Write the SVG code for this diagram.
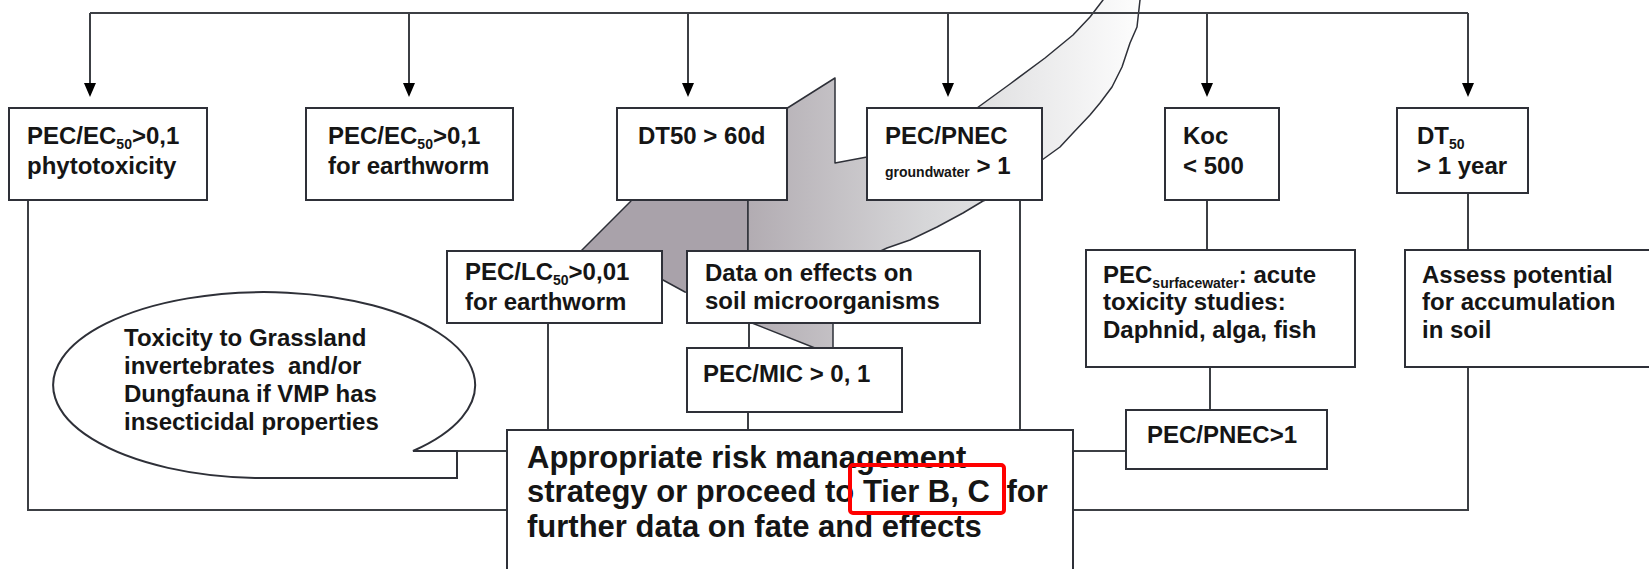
<svg xmlns="http://www.w3.org/2000/svg" width="1649" height="569" viewBox="0 0 1649 569">
<style>
.box{fill:#fff;stroke:#2e3038;stroke-width:2}
.t{font-family:"Liberation Sans",Arial,sans-serif;font-weight:bold;font-size:24px;fill:#151515}
.big{font-size:31px}
.sub{font-size:14px}
.con{fill:none;stroke:#3c3f44;stroke-width:2}
.ah{fill:#000}
.shape{stroke:#2e3038;stroke-width:1.5;stroke-linejoin:round}
</style>
<defs>
<linearGradient id="g1" gradientUnits="userSpaceOnUse" x1="748" y1="0" x2="1140" y2="0">
<stop offset="0" stop-color="#b2acb2"/>
<stop offset="0.45" stop-color="#d6d6d8"/>
<stop offset="1" stop-color="#fdfdfd"/>
</linearGradient>
</defs>
<rect width="1649" height="569" fill="#fff"/>

<g id="big-arrow">
<polygon class="shape" fill="#a9a2aa" points="640,190 748,190 748,300 685,292 663,280 600,290 540,292 582,250 630,202"/>
<polygon class="shape" fill="url(#g1)" points="748,190 770,119 835,78 835,163 867,157 960,120 977,108 1010,84 1045,58 1073,35 1090,17 1103,0 1104,-5 1146,-5 1140,0 1137,27 1130,43 1122,67 1112,87 1100,103 1090,115 1073,133 1060,147 1042,160 1030,185 983,201 963,213 937,227 910,240 887,248 870,256 845,300 833,310 833,350 820,350 752,323 752,300 748,300"/>
</g>

<g id="connectors">
<path class="con" d="M90 13 H1468 M90 13 V86 M409 13 V86 M688 13 V86 M948 13 V86 M1207 13 V86 M1468 13 V86"/>
<path class="ah" d="M84 83 H96 L90 97 Z M403 83 H415 L409 97 Z M682 83 H694 L688 97 Z M942 83 H954 L948 97 Z M1201 83 H1213 L1207 97 Z M1462 83 H1474 L1468 97 Z"/>
<path class="con" d="M28 200 V510 H507"/>
<path class="con" d="M548 323 V430"/>
<path class="con" d="M749 323 V348"/>
<path class="con" d="M748 412 V430"/>
<path class="con" d="M1020 200 V430"/>
<path class="con" d="M1207 200 V250"/>
<path class="con" d="M1210 367 V410"/>
<path class="con" d="M1126 451 H1073"/>
<path class="con" d="M1468 193 V250"/>
<path class="con" d="M1468 367 V510 H1073"/>
<path class="con" d="M457 451 H507"/>
</g>

<g id="n1">
<rect class="box" x="9" y="108" width="198" height="92"/>
<text class="t" x="27" y="144">PEC/EC<tspan class="sub" dy="5">50</tspan><tspan dy="-5">&gt;0,1</tspan></text>
<text class="t" x="27" y="174">phytotoxicity</text>
</g>
<g id="n2">
<rect class="box" x="306" y="108" width="207" height="92"/>
<text class="t" x="328" y="144">PEC/EC<tspan class="sub" dy="5">50</tspan><tspan dy="-5">&gt;0,1</tspan></text>
<text class="t" x="328" y="174">for earthworm</text>
</g>
<g id="n3">
<rect class="box" x="617" y="108" width="170" height="92"/>
<text class="t" x="638" y="144">DT50 &gt; 60d</text>
</g>
<g id="n4">
<rect class="box" x="867" y="108" width="175" height="92"/>
<text class="t" x="885" y="144">PEC/PNEC</text>
<text class="t" x="885" y="174"><tspan class="sub" dy="3">groundwater</tspan><tspan dy="-3"> &gt; 1</tspan></text>
</g>
<g id="n5">
<rect class="box" x="1165" y="108" width="114" height="92"/>
<text class="t" x="1183" y="144">Koc</text>
<text class="t" x="1183" y="174">&lt; 500</text>
</g>
<g id="n6">
<rect class="box" x="1397" y="108" width="131" height="85"/>
<text class="t" x="1417" y="144">DT<tspan class="sub" dy="5">50</tspan></text>
<text class="t" x="1417" y="174">&gt; 1 year</text>
</g>
<g id="n7">
<rect class="box" x="447" y="251" width="215" height="72"/>
<text class="t" x="465" y="280">PEC/LC<tspan class="sub" dy="5">50</tspan><tspan dy="-5">&gt;0,01</tspan></text>
<text class="t" x="465" y="310">for earthworm</text>
</g>
<g id="n8">
<rect class="box" x="687" y="251" width="293" height="72"/>
<text class="t" x="705" y="281">Data on effects on</text>
<text class="t" x="705" y="309">soil microorganisms</text>
</g>
<g id="n9">
<rect class="box" x="687" y="348" width="215" height="64"/>
<text class="t" x="703" y="382">PEC/MIC &gt; 0, 1</text>
</g>
<g id="n10">
<rect class="box" x="1086" y="250" width="269" height="117"/>
<text class="t" x="1103" y="283">PEC<tspan class="sub" dy="5">surfacewater</tspan><tspan dy="-5">: acute</tspan></text>
<text class="t" x="1103" y="310">toxicity studies:</text>
<text class="t" x="1103" y="338">Daphnid, alga, fish</text>
</g>
<g id="n11">
<rect class="box" x="1126" y="410" width="201" height="59"/>
<text class="t" x="1147" y="443">PEC/PNEC&gt;1</text>
</g>
<g id="n12">
<rect class="box" x="1405" y="250" width="260" height="117"/>
<text class="t" x="1422" y="283">Assess potential</text>
<text class="t" x="1422" y="310">for accumulation</text>
<text class="t" x="1422" y="338">in soil</text>
</g>
<g id="callout">
<path class="box" d="M413 451 A211 93 0 1 0 255 478 L457 478 L457 451 Z"/>
<text class="t" x="124" y="346">Toxicity to Grassland</text>
<text class="t" x="124" y="374" xml:space="preserve">invertebrates  and/or</text>
<text class="t" x="124" y="402">Dungfauna if VMP has</text>
<text class="t" x="124" y="430">insecticidal properties</text>
</g>
<g id="main">
<rect class="box" x="507" y="430" width="566" height="170"/>
<text class="t big" x="527" y="468">Appropriate risk management</text>
<text class="t big" x="527" y="502">strategy or proceed to Tier B, C<tspan dx="8"> for</tspan></text>
<text class="t big" x="527" y="537">further data on fate and effects</text>
<rect x="850" y="465" width="154" height="48" rx="3" fill="none" stroke="#ff0000" stroke-width="4"/>
</g>
</svg>
